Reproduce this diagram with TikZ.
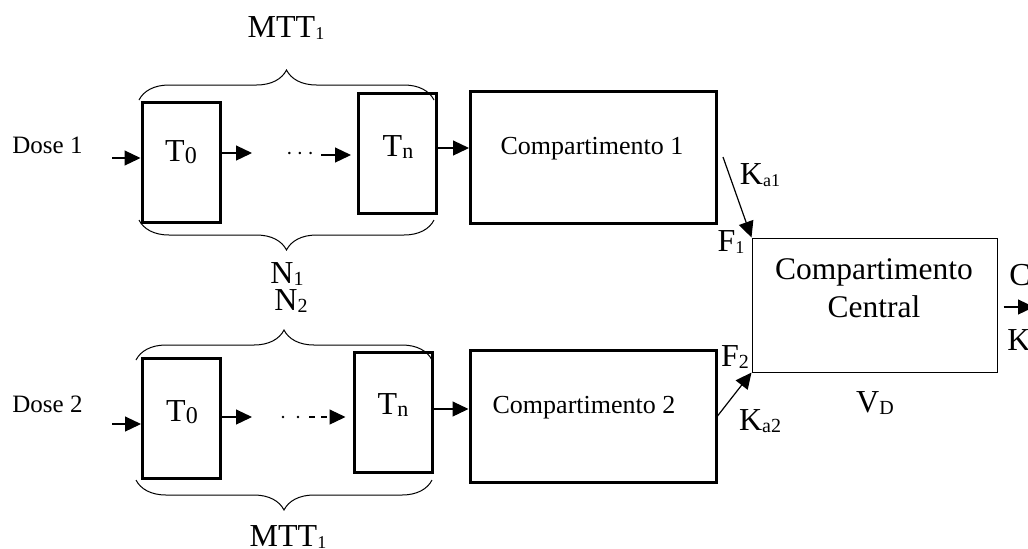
\documentclass[tikz,border=0pt]{standalone}
\usepackage{fontspec}
\setmainfont{Liberation Serif}
\usetikzlibrary{arrows.meta,decorations.pathreplacing}

% small index, only a little lowered
\newcommand\lo[2][10]{\raisebox{-1.2pt}{\fontsize{#1}{#1}\selectfont #2}}

\begin{document}
\begin{tikzpicture}[
  x=0.5pt, y={(0,-0.5pt)},
  >={Triangle[length=8pt,width=7.5pt]},
  tbox/.style={draw,line width=1.5pt,minimum width=39pt,minimum height=60pt},
  cbox/.style={draw,line width=1.5pt,minimum width=123pt,minimum height=66pt},
  central/.style={draw,line width=0.5pt,minimum width=122.5pt,minimum height=67pt},
  lab/.style={inner sep=0pt,font=\fontsize{16}{19}\selectfont},
  small/.style={inner sep=0pt,font=\fontsize{13}{16}\selectfont},
  dose/.style={inner sep=0pt,font=\fontsize{12.5}{15}\selectfont},
  flow/.style={->,line width=0.6pt},
  curly/.style={decorate,decoration={brace,amplitude=15pt},line width=0.5pt}
]
  \clip (0,0) rectangle (1028,548);

  % first chain
  \node[tbox] (t0a) at (181,162) {};
  \node[tbox] (tna) at (397.5,153) {};
  \node[cbox] (c1) at (593.5,157) {};
  \node[lab] (t0atxt) at (181,152) {T\lo[12]{0}};
  \node[lab] (tnatxt) at (398,147) {T\lo[11]{n}};
  \node[small] (c1txt) at (592,149) {Compartimento 1};
  \node[dose] (dose1) at (47.5,145) {Dose 1};

  % second chain
  \node[tbox] (t0b) at (181.5,418.5) {};
  \node[tbox] (tnb) at (393,412) {};
  \node[cbox] (c2) at (593,416) {};
  \node[lab] (t0btxt) at (182,412) {T\lo[12]{0}};
  \node[lab] (tnbtxt) at (393,405) {T\lo[11]{n}};
  \node[small] (c2txt) at (584,408) {Compartimento 2};
  \node[dose] (dose2) at (47.5,404) {Dose 2};

  % central compartment
  \node[central] (cc) at (874.5,305) {};
  \node[lab,font=\fontsize{15.75}{19}\selectfont,align=center] (cctxt) at (874,288) {Compartimento\\Central};
  \node[lab] (vd) at (875,403) {V\lo{D}};
  \node[lab] (f1) at (731,242) {F\lo[9]{1}};
  \node[lab] (f2) at (735,357) {F\lo[10]{2}};
  \node[lab] (ka1) at (760,175) {K\lo[9]{a1}};
  \node[lab] (ka2) at (760,421) {K\lo[10]{a2}};
  \node[lab,anchor=west] (cl) at (1009,275) {C};
  \node[lab,anchor=west] (ke) at (1007,340) {K};

  % braces
  \draw[curly] (139,100) -- (434,100);
  \draw[curly] (434,220) -- (139,220);
  \draw[curly] (136,360) -- (432,360);
  \draw[curly] (432,480) -- (136,480);
  \node[lab] (mtt1) at (286,28) {MTT\lo[9]{1}};
  \node[lab] (n1) at (287,274) {N\lo{1}};
  \node[lab] (n2) at (291,301) {N\lo{2}};
  \node[lab] (mtt2) at (288,537) {MTT\lo[9]{1}};

  % levels of the arrows
  \coordinate (in1) at (112,158);
  \coordinate (mid1) at (252,153);
  \coordinate (go1) at (321,155);
  \coordinate (y1) at (0,148);
  \coordinate (in2) at (112,424);
  \coordinate (mid2) at (252,417);
  \coordinate (dot2) at (283,417);
  \coordinate (dash2) at (309,417);
  \coordinate (y2) at (0,409);
  \coordinate (exit) at (1034,307);

  \draw[flow] (in1) -- (in1 -| t0a.west);
  \draw[flow] (mid1 -| t0a.east) -- (mid1);
  \node (dots1) at (300,154) {\fontsize{12}{12}\selectfont$\cdots$};
  \draw[flow,shorten >=3pt] (go1) -- (go1 -| tna.west);
  \draw[flow] (tna.east |- y1) -- (c1.west |- y1);

  \draw[flow] (in2) -- (in2 -| t0b.west);
  \draw[flow] (mid2 -| t0b.east) -- (mid2);
  \draw[line width=1.4pt,line cap=round,dash pattern=on 0pt off 7.5pt] (dot2) -- (dash2);
  \draw[flow,dashed,shorten >=3.5pt] (dash2) -- (dash2 -| tnb.west);
  \draw[flow] (tnb.east |- y2) -- (c2.west |- y2);

  \draw[flow] ([xshift=2.5pt]c1.east) -- (cc.north west);
  \draw[flow] (c2.east) -- (cc.south west);
  \draw[flow] ([xshift=3pt]cc.east |- exit) -- (exit);
\end{tikzpicture}
\end{document}
